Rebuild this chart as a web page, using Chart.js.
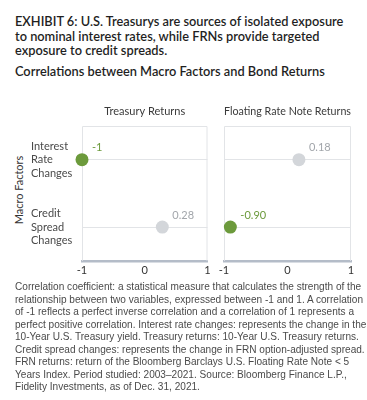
<!DOCTYPE html>
<html>
<head>
<meta charset="utf-8">
<script src="https://cdn.jsdelivr.net/npm/chart.js@4.4.1/dist/chart.umd.min.js"></script>
<style>
  html, body { margin: 0; padding: 0; background: #ffffff; }
  body { width: 367px; height: 400px; position: relative; overflow: hidden; }
  #title { position: absolute; left: 15px; top: 14px; font-family: Lato, "Open Sans", sans-serif; font-weight: 600; font-size: 12.8px; line-height: 14.6px; color: #1f1f1f; white-space: nowrap; }
  #subtitle { position: absolute; left: 15px; top: 64px; font-family: Lato, "Open Sans", sans-serif; font-weight: 600; font-size: 12.8px; line-height: 14.6px; color: #1f1f1f; white-space: nowrap; }
  #ytitle { position: absolute; left: 18px; top: 190px; transform: translate(-50%, -50%) rotate(-90deg); font-family: Lato, sans-serif; font-size: 11px; color: #333; white-space: nowrap; }
  #c1wrap { position: absolute; left: 0; top: 99px; width: 214px; height: 183px; }
  #c2wrap { position: absolute; left: 214px; top: 99px; width: 153px; height: 183px; }
  #note { position: absolute; left: 15px; top: 280px; font-family: "Liberation Sans", Arial, sans-serif; font-size: 11px; line-height: 12.5px; color: #4a4a4a; white-space: nowrap; transform-origin: 0 0; }
  #note span { display: block; }
</style>
</head>
<body>
<div id="title">EXHIBIT 6: U.S. Treasurys are sources of isolated exposure<br>to nominal interest rates, while FRNs provide targeted<br>exposure to credit spreads.</div>
<div id="subtitle">Correlations between Macro Factors and Bond Returns</div>
<div id="ytitle">Macro Factors</div>
<div id="c1wrap"><canvas id="c1"></canvas></div>
<div id="c2wrap"><canvas id="c2"></canvas></div>
<div id="note"><span>Correlation coefficient: a statistical measure that calculates the strength of the</span><span id="refline">relationship between two variables, expressed between -1 and 1. A correlation</span><span>of -1 reflects a perfect inverse correlation and a correlation of 1 represents a</span><span>perfect positive correlation. Interest rate changes: represents the change in the</span><span>10-Year U.S. Treasury yield. Treasury returns: 10-Year U.S. Treasury returns.</span><span>Credit spread changes: represents the change in FRN option-adjusted spread.</span><span>FRN returns: return of the Bloomberg Barclays U.S. Floating Rate Note &lt; 5</span><span>Years Index. Period studied: 2003–2021. Source: Bloomberg Finance L.P.,</span><span>Fidelity Investments, as of Dec. 31, 2021.</span></div>
<script>
const factors = [["Interest", "Rate", "Changes"], ["Credit", "Spread", "Changes"]];
const panelTitles = ["Treasury Returns", "Floating Rate Note Returns"];
const treasuryCorr = [-1, 0.28];
const frnCorr = [0.18, -0.90];
const treasuryLabels = ["-1", "0.28"];
const frnLabels = ["0.18", "-0.90"];
const xTicks = [-1, 0, 1];

// fit the footnote to the reference width (narrow font)
(function () {
  const note = document.getElementById("note");
  const ref = document.getElementById("refline");
  const r = document.createRange();
  r.selectNodeContents(ref);
  const w = r.getBoundingClientRect().width;
  const s = 348 / w;
  note.style.transform = "scaleX(" + s + ")";
})();

const GREEN = "#6c9a3c";
const GRAY = "#d3d6da";
const GREEN_TXT = "#6c9a3c";
const GRAY_TXT = "#a2a6ab";

function colorFor(v) { return v < 0 ? GREEN : GRAY; }
function txtColorFor(v) { return v < 0 ? GREEN_TXT : GRAY_TXT; }

const boxPlugin = {
  id: "boxPlugin",
  beforeDatasetsDraw(chart) {
    const { ctx, chartArea: a } = chart;
    ctx.save();
    ctx.strokeStyle = "#e2e4e7";
    ctx.lineWidth = 1;
    ctx.beginPath();
    ctx.moveTo(a.left + 0.5, a.bottom);
    ctx.lineTo(a.left + 0.5, a.top + 0.5);
    ctx.lineTo(a.right - 0.5, a.top + 0.5);
    ctx.lineTo(a.right - 0.5, a.bottom);
    ctx.stroke();
    ctx.restore();
  }
};

const labelPlugin = {
  id: "labelPlugin",
  afterDatasetsDraw(chart) {
    const { ctx } = chart;
    const ds = chart.data.datasets[0];
    const meta = chart.getDatasetMeta(0);
    ctx.save();
    ctx.font = "11px Lato, sans-serif";
    ctx.textAlign = "left";
    ctx.textBaseline = "middle";
    meta.data.forEach((pt, i) => {
      const v = ds.data[i].x;
      ctx.fillStyle = txtColorFor(v);
      ctx.fillText(ds.valueLabels[i], pt.x + 10, pt.y - 12);
    });
    ctx.restore();
  }
};

function makeChart(id, values, labels, title, showY, pad) {
  return new Chart(document.getElementById(id), {
    type: "line",
    data: {
      labels: factors,
      datasets: [{
        data: values.map((v, i) => ({ x: v, y: i })),
        valueLabels: labels,
        showLine: false,
        clip: false,
        pointRadius: 6.5,
        pointHoverRadius: 6.5,
        pointBackgroundColor: values.map(colorFor),
        pointBorderColor: values.map(colorFor),
        pointBorderWidth: 0
      }]
    },
    options: {
      responsive: true,
      maintainAspectRatio: false,
      animation: false,
      events: [],
      layout: { padding: pad },
      plugins: {
        legend: { display: false },
        tooltip: { enabled: false },
        title: {
          display: true,
          text: title,
          fullSize: false,
          color: "#3a3a3a",
          font: { family: "Lato, sans-serif", size: 11, weight: "normal", lineHeight: 13 / 11 },
          padding: { top: 6, bottom: 8 }
        }
      },
      scales: {
        x: {
          type: "linear",
          min: -1,
          max: 1,
          afterBuildTicks(scale) { scale.ticks = xTicks.map(v => ({ value: v })); },
          ticks: {
            color: "#333",
            font: { family: "Lato, sans-serif", size: 11, lineHeight: 1.2 },
            padding: 3,
            callback: v => String(v)
          },
          grid: { display: false, drawTicks: false },
          border: { display: true, color: "#b4bcc8", width: 2.5 }
        },
        y: {
          type: "linear",
          min: -0.5,
          max: 1.5,
          reverse: true,
          display: true,
          afterBuildTicks(scale) { scale.ticks = [{ value: 0 }, { value: 1 }]; },
          afterFit(scale) { scale.width = showY ? 51 : 0; },
          ticks: {
            display: showY,
            crossAlign: "far",
            color: "#4a4a4a",
            font: { family: "Lato, sans-serif", size: 11, lineHeight: 13.3 / 11 },
            padding: 0,
            callback: (v) => factors[v]
          },
          grid: { color: "#e2e4e7", lineWidth: 1, drawTicks: false },
          border: { display: false }
        }
      }
    },
    plugins: [boxPlugin, labelPlugin]
  });
}

makeChart("c1", treasuryCorr, treasuryLabels, panelTitles[0], true, { left: 31, right: 5, top: 0, bottom: 2 });
makeChart("c2", frnCorr, frnLabels, panelTitles[1], false, { left: 10, right: 16, top: 0, bottom: 2 });
</script>
</body>
</html>
